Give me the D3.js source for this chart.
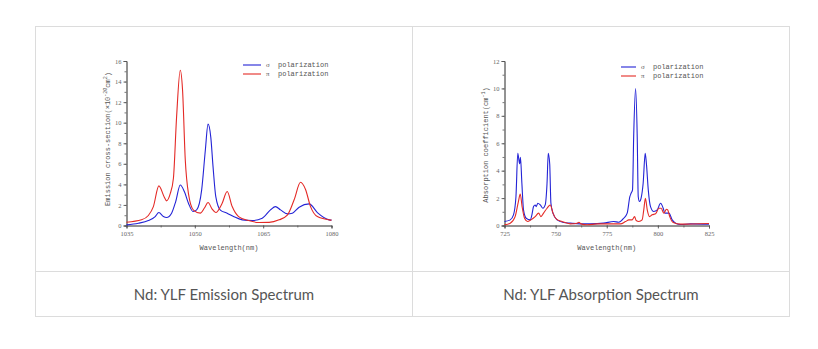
<!DOCTYPE html>
<html>
<head>
<meta charset="utf-8">
<script src="https://cdn.jsdelivr.net/npm/d3@7"></script>
<style>
  html, body { margin: 0; padding: 0; background: #fff; }
  svg { display: block; }
</style>
</head>
<body>
<svg id="chart" width="818" height="349"></svg>
<script>
// ---------- DATA ----------
const captions = ["Nd: YLF Emission Spectrum", "Nd: YLF Absorption Spectrum"];
const legendLabels = ["σ", "π"];

// Emission spectrum (wavelength nm, cross-section ×10^-20 cm^2)
const emXTicks = [1035, 1050, 1065, 1080];
const emYTicks = [0, 2, 4, 6, 8, 10, 12, 14, 16];
const emSigmaX = [1035, 1037.6, 1039.8, 1041.3, 1042.1, 1043.1, 1043.8, 1044.9, 1045.8, 1046.8, 1047.7, 1048.6, 1049.6, 1050.4, 1051.5, 1052.3, 1052.9, 1053.5, 1054.0, 1054.6, 1055.6, 1057.1, 1058.5, 1060.4, 1062.6, 1064.8, 1066.6, 1067.7, 1068.8, 1070.3, 1071.4, 1072.9, 1075.1, 1076.9, 1079.5, 1080];
const emSigmaY = [0.06, 0.22, 0.48, 0.87, 1.26, 0.87, 0.78, 1.2, 2.33, 3.94, 3.3, 2.17, 1.36, 1.52, 3.46, 7.3, 9.86, 8.6, 5.7, 2.8, 1.5, 1.2, 0.87, 0.55, 0.48, 0.71, 1.52, 1.84, 1.52, 1.13, 1.2, 1.78, 2.1, 1.26, 0.55, 0.52];
const emPiX = [1035, 1038.3, 1039.8, 1040.9, 1042.1, 1043.3, 1043.8, 1044.6, 1045.3, 1046.0, 1046.8, 1047.3, 1047.9, 1048.6, 1049.7, 1051.2, 1052.1, 1052.9, 1053.8, 1054.6, 1056.0, 1057.1, 1058.2, 1059.6, 1061.8, 1064.0, 1066.3, 1068.5, 1070.3, 1071.8, 1073.2, 1074.3, 1075.4, 1076.9, 1079.5, 1080];
const emPiY = [0.32, 0.55, 0.97, 1.84, 3.85, 2.75, 2.4, 3.1, 4.6, 10.6, 15.1, 13.2, 6.4, 3.1, 1.5, 1.2, 1.7, 2.23, 1.6, 1.26, 2.17, 3.3, 1.84, 0.87, 0.48, 0.29, 0.3, 0.55, 1.0, 2.5, 4.2, 3.5, 1.84, 0.87, 0.55, 0.52];

// Absorption spectrum (wavelength nm, absorption coefficient cm^-1)
const abXTicks = [725, 750, 775, 800, 825];
const abYTicks = [0, 2, 4, 6, 8, 10, 12];
const abSigmaX = [725, 727.8, 729.4, 730.6, 731.5, 732.4, 732.8, 733.5, 734.3, 735.6, 737.6, 738.4, 739.2, 740.0, 740.5, 741.3, 742.5, 743.8, 744.9, 745.8, 746.4, 747.1, 747.7, 748.7, 750.7, 753.9, 757.2, 762, 767, 773.5, 778.4, 780.9, 783.3, 785, 786.3, 786.9, 787.6, 788.2, 789.1, 789.9, 790.4, 791.0, 791.8, 792.8, 793.8, 794.4, 795.3, 796.4, 798.0, 799.7, 801.3, 802.6, 803.4, 805.4, 807.0, 808.7, 811.1, 816, 825];
const abSigmaY = [0.29, 0.41, 0.78, 2.1, 5.26, 4.5, 4.97, 3.08, 1.14, 0.53, 0.41, 0.78, 1.38, 1.5, 1.38, 1.62, 1.5, 1.26, 1.5, 3.08, 5.26, 4.5, 1.62, 0.9, 0.41, 0.22, 0.17, 0.12, 0.12, 0.17, 0.29, 0.24, 0.53, 0.9, 2.1, 2.35, 2.6, 6.7, 9.99, 6.5, 2.1, 1.75, 2.0, 3.08, 5.26, 4.5, 2.6, 1.38, 1.02, 1.14, 1.62, 1.26, 0.9, 0.9, 0.41, 0.17, 0.07, 0.12, 0.1];
const abPiX = [725, 727.8, 730.2, 731.8, 732.7, 733.6, 734.8, 736.3, 737.9, 740.0, 741.7, 742.8, 744.1, 745.8, 747.4, 748.7, 750.4, 753.1, 757.2, 760.5, 761.4, 762.4, 765.4, 770.3, 776.8, 781.7, 784.2, 785.8, 787.4, 788.6, 789.4, 790.7, 792.3, 793.1, 793.9, 794.8, 795.9, 797.2, 798.9, 800.5, 801.6, 802.9, 804.2, 804.8, 805.8, 807.5, 811.1, 825];
const abPiY = [0.05, 0.17, 0.65, 1.75, 2.3, 1.38, 0.53, 0.29, 0.41, 0.65, 0.9, 0.65, 0.9, 1.26, 1.5, 0.9, 0.46, 0.29, 0.12, 0.17, 0.24, 0.12, 0.05, 0.12, 0.12, 0.12, 0.29, 0.41, 0.41, 0.65, 0.36, 0.29, 0.41, 1.14, 1.99, 1.14, 0.65, 0.78, 0.85, 1.26, 1.26, 0.9, 1.19, 1.14, 0.65, 0.22, 0.1, 0.15];

// ---------- DRAW ----------
const svg = d3.select("#chart");
svg.append("rect").attr("width", 818).attr("height", 349).attr("fill", "#fff");

const BLUE = "#2424d6", RED = "#e42a26";

// table frame
const tbl = svg.append("g").attr("stroke", "#dcdcdc").attr("stroke-width", 1).attr("fill", "none");
tbl.append("rect").attr("x", 35.5).attr("y", 26.5).attr("width", 754).attr("height", 290);
tbl.append("line").attr("x1", 412.5).attr("x2", 412.5).attr("y1", 26.5).attr("y2", 316.5);
tbl.append("line").attr("x1", 35.5).attr("x2", 789.5).attr("y1", 271.5).attr("y2", 271.5);

// captions
svg.selectAll("text.caption").data(captions).join("text")
  .attr("class", "caption")
  .attr("x", (d, i) => i === 0 ? 224 : 601)
  .attr("y", 299.5)
  .attr("text-anchor", "middle")
  .attr("font-family", "Lato, 'Open Sans', sans-serif")
  .attr("font-size", 15)
  .attr("fill", "#555")
  .text(d => d);

function drawChart(cfg) {
  const g = svg.append("g");
  const x = d3.scaleLinear().domain(cfg.xDomain).range([cfg.left, cfg.right]);
  const y = d3.scaleLinear().domain(cfg.yDomain).range([cfg.bottom, cfg.top]);

  // minor ticks
  const xMinor = d3.axisBottom(x).tickValues(cfg.xMinor).tickSize(2).tickFormat("");
  const yMinor = d3.axisLeft(y).tickValues(cfg.yMinor).tickSize(2).tickFormat("");
  g.append("g").attr("transform", `translate(0,${cfg.bottom})`).call(xMinor);
  g.append("g").attr("transform", `translate(${cfg.left},0)`).call(yMinor);

  const xAxis = d3.axisBottom(x).tickValues(cfg.xTicks).tickSize(3).tickPadding(3).tickFormat(d3.format("d"));
  const yAxis = d3.axisLeft(y).tickValues(cfg.yTicks).tickSize(3).tickPadding(2).tickFormat(d3.format("d"));
  g.append("g").attr("class", "ax").attr("transform", `translate(0,${cfg.bottom})`).call(xAxis);
  g.append("g").attr("class", "ax").attr("transform", `translate(${cfg.left},0)`).call(yAxis);

  g.selectAll(".domain, .tick line").attr("stroke", "#555").attr("stroke-width", 0.8);
  g.selectAll(".tick text").attr("font-family", "'Liberation Serif', serif").attr("font-size", 6.5).attr("fill", "#666");

  const line = d3.line().x(d => x(d[0])).y(d => y(d[1])).curve(cfg.curve);
  cfg.series.forEach(s => {
    g.append("path")
      .datum(d3.zip(s.xs, s.ys))
      .attr("fill", "none")
      .attr("stroke", s.color)
      .attr("stroke-width", 1.1)
      .attr("stroke-linejoin", "round")
      .attr("d", line);
  });

  // x title
  g.append("text")
    .attr("x", (cfg.left + cfg.right) / 2).attr("y", cfg.bottom + 24)
    .attr("text-anchor", "middle")
    .attr("font-family", "'Liberation Mono', monospace").attr("font-size", 7).attr("fill", "#555")
    .text("Wavelength(nm)");

  // y title
  const yt = g.append("text")
    .attr("transform", `translate(${cfg.yTitleX},${cfg.yTitleY}) rotate(-90)`)
    .attr("text-anchor", "middle")
    .attr("font-family", "'Liberation Mono', monospace").attr("font-size", 7).attr("fill", "#555");
  cfg.yTitle.forEach(p => {
    yt.append("tspan").attr("baseline-shift", p.sup ? "super" : null)
      .attr("font-size", p.sup ? 5 : null).text(p.t);
  });

  // legend
  const lg = g.append("g");
  cfg.series.forEach((s, i) => {
    const ly = cfg.legY + i * 9;
    lg.append("line").attr("x1", cfg.legX).attr("x2", cfg.legX + cfg.legLen)
      .attr("y1", ly).attr("y2", ly).attr("stroke", s.color).attr("stroke-width", 1.1);
    lg.append("text").attr("x", cfg.legX + cfg.legLen + 5).attr("y", ly + 2.3)
      .attr("font-family", "'Liberation Serif', serif").attr("font-size", 7).attr("fill", "#555")
      .text(legendLabels[i]);
    lg.append("text").attr("x", cfg.legX + cfg.legLen + 17).attr("y", ly + 2.3)
      .attr("font-family", "'Liberation Mono', monospace").attr("font-size", 7).attr("fill", "#555")
      .text("polarization");
  });
}

drawChart({
  xDomain: [1035, 1080], yDomain: [0, 16],
  left: 126.5, right: 331.5, top: 61, bottom: 225.5,
  xTicks: emXTicks, yTicks: emYTicks,
  xMinor: d3.range(1035, 1080.1, 7.5), yMinor: d3.range(0, 16.1, 1),
  curve: d3.curveMonotoneX,
  series: [{xs: emSigmaX, ys: emSigmaY, color: BLUE}, {xs: emPiX, ys: emPiY, color: RED}],
  yTitleX: 110, yTitleY: 139,
  yTitle: [{t: "Emission cross-section(×10"}, {t: "-20", sup: true}, {t: "cm"}, {t: "2", sup: true}, {t: ")"}],
  legX: 243, legY: 65, legLen: 18
});

drawChart({
  xDomain: [725, 825], yDomain: [0, 12],
  left: 504.5, right: 709, top: 61, bottom: 225.5,
  xTicks: abXTicks, yTicks: abYTicks,
  xMinor: d3.range(725, 825.1, 12.5), yMinor: d3.range(0, 12.1, 1),
  curve: d3.curveMonotoneX,
  series: [{xs: abSigmaX, ys: abSigmaY, color: BLUE}, {xs: abPiX, ys: abPiY, color: RED}],
  yTitleX: 488, yTitleY: 145,
  yTitle: [{t: "Absorption coefficient(cm"}, {t: "-1", sup: true}, {t: ")"}],
  legX: 621, legY: 67, legLen: 15
});
</script>
</body>
</html>
